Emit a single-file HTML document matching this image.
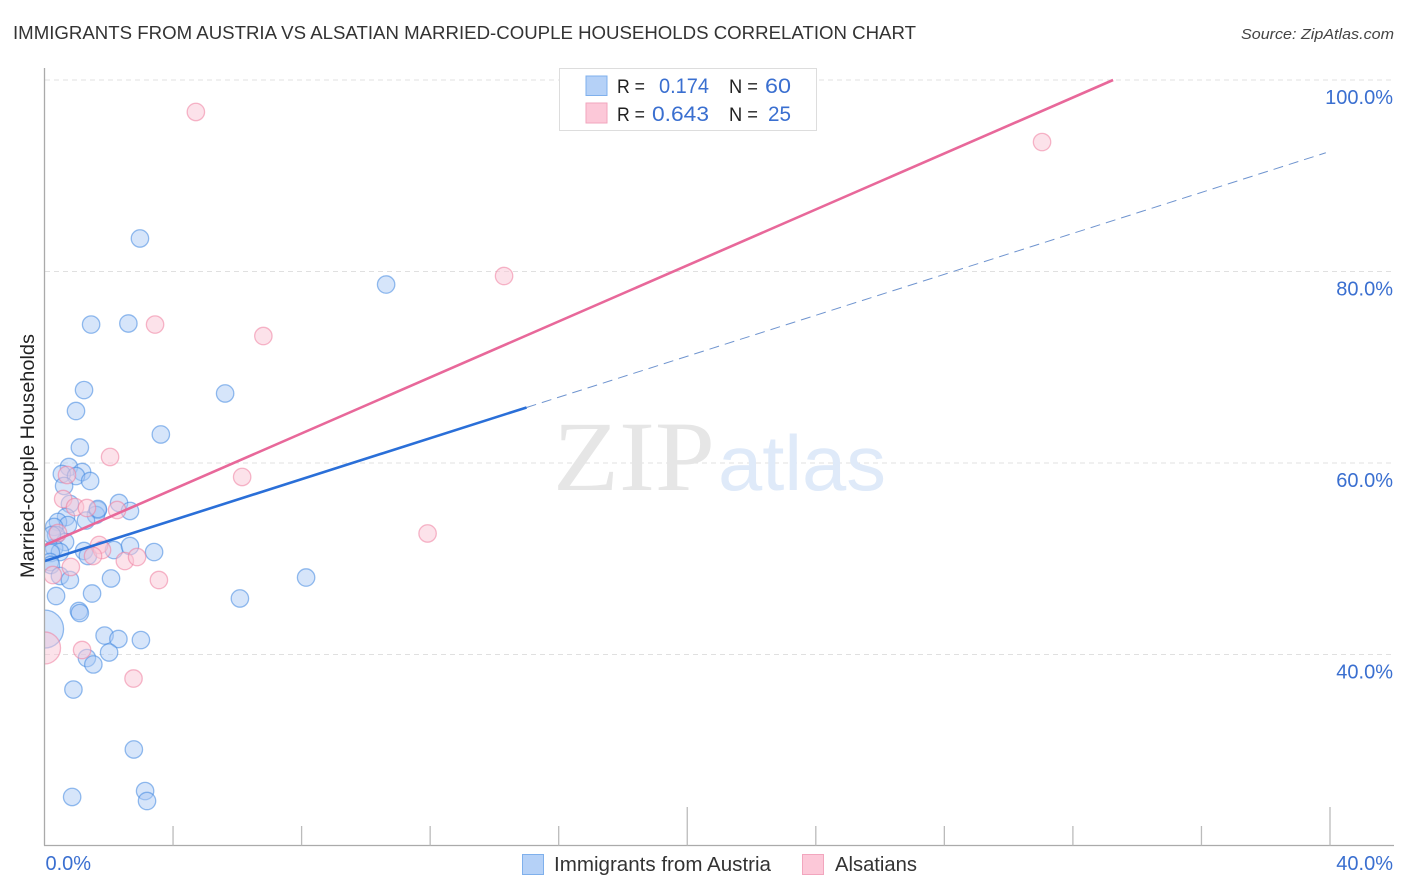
<!DOCTYPE html>
<html lang="en">
<head>
<meta charset="utf-8">
<title>Immigrants from Austria vs Alsatian Married-couple Households Correlation Chart</title>
<style>
  html, body { margin: 0; padding: 0; background: #fff; }
  body { width: 1406px; height: 892px; overflow: hidden; }
  svg { display: block; font-family: "Liberation Sans", sans-serif; }
</style>
</head>
<body>
<svg id="chart" width="1406" height="892" viewBox="0 0 1406 892" xmlns="http://www.w3.org/2000/svg">
  <rect width="1406" height="892" fill="#fff"/>
  <text x="13" y="39" font-size="18.5" fill="#333" textLength="903" lengthAdjust="spacingAndGlyphs">IMMIGRANTS FROM AUSTRIA VS ALSATIAN MARRIED-COUPLE HOUSEHOLDS CORRELATION CHART</text>
  <text x="1241" y="39" font-size="15" font-style="italic" fill="#444" textLength="153" lengthAdjust="spacingAndGlyphs">Source: ZipAtlas.com</text>

  <g id="grid"></g>

  <g>
    <text x="553" y="490" font-family="'Liberation Serif', serif" font-size="100" fill="#e6e6e6" textLength="162" lengthAdjust="spacingAndGlyphs">ZIP</text>
    <text x="718" y="490" font-size="78" fill="#dfeaf9" textLength="168" lengthAdjust="spacingAndGlyphs">atlas</text>
  </g>

  <g id="points"></g>
  <rect x="0" y="60" width="44.5" height="785" fill="#fff"/>
  <g id="trends"></g>
  <g id="axes"></g>

  <text transform="translate(34 456) rotate(-90)" font-size="19.5" fill="#222" text-anchor="middle" textLength="244" lengthAdjust="spacingAndGlyphs">Married-couple Households</text>

  <g>
    <rect x="559.5" y="68.5" width="257" height="62" fill="#fff" stroke="#ddd" stroke-width="1"/>
    <rect x="586" y="76" width="21" height="19.5" fill="#b5d1f7" stroke="#7fb0ec"/>
    <rect x="586" y="103" width="21" height="20" fill="#fcc8d8" stroke="#f2a6be"/>
    <g font-size="19" fill="#222">
      <text x="617" y="93" textLength="28" lengthAdjust="spacingAndGlyphs">R =</text>
      <text x="729" y="93" textLength="29" lengthAdjust="spacingAndGlyphs">N =</text>
      <text x="617" y="121" textLength="28" lengthAdjust="spacingAndGlyphs">R =</text>
      <text x="729" y="121" textLength="29" lengthAdjust="spacingAndGlyphs">N =</text>
    </g>
    <g font-size="21" fill="#3a6fd0">
      <text x="659" y="93" textLength="50" lengthAdjust="spacingAndGlyphs">0.174</text>
      <text x="765" y="93" textLength="26" lengthAdjust="spacingAndGlyphs">60</text>
      <text x="652" y="121" textLength="57" lengthAdjust="spacingAndGlyphs">0.643</text>
      <text x="768" y="121" textLength="23" lengthAdjust="spacingAndGlyphs">25</text>
    </g>
  </g>

  <g>
    <g>
      <rect x="522.5" y="854.5" width="21" height="20" fill="#b5d1f7" stroke="#7fb0ec"/>
      <text x="554" y="871" font-size="20" fill="#333" textLength="217" lengthAdjust="spacingAndGlyphs">Immigrants from Austria</text>
    </g>
    <g>
      <rect x="802.5" y="854.5" width="21" height="20" fill="#fcc8d8" stroke="#f2a6be"/>
      <text x="835" y="871" font-size="20" fill="#333" textLength="82" lengthAdjust="spacingAndGlyphs">Alsatians</text>
    </g>
  </g>
</svg>

<script>
var blueX = [2.97,10.63,2.61,1.45,1.23,5.62,0.98,3.62,1.10,0.76,1.17,0.54,0.98,1.42,0.61,0.79,2.32,1.66,1.60,2.66,0.67,1.29,0.42,0.73,0.30,0.36,0.64,0.30,1.23,2.16,2.66,3.41,0.48,0.20,1.35,0.17,0.20,0.48,0.79,2.07,8.14,1.48,0.36,6.08,1.07,1.10,1.87,2.30,3.00,2.01,1.32,1.52,0.90,2.78,0.86,3.13,3.19,1.66,0.23,0];
var blueY = [83.45,78.64,74.57,74.46,67.62,67.26,65.43,62.98,61.62,59.58,59.06,58.85,58.64,58.12,57.60,55.72,55.82,55.09,54.57,54.99,54.36,53.99,53.84,53.52,53.32,52.48,51.75,51.12,50.81,50.91,51.33,50.70,50.70,50.60,50.29,49.66,49.35,48.20,47.78,47.94,48.04,46.37,46.11,45.85,44.54,44.33,41.98,41.62,41.51,40.21,39.63,38.96,36.34,30.08,25.12,25.74,24.70,55.20,52.48,42.66];
var blueWeight = [1,1,1,1,1,1,1,1,1,1,1,1,1,1,1,1,1,1,1,1,1,1,1,1,1,1,1,1,1,1,1,1,1,1,1,1,1,1,1,1,1,1,1,1,1,1,1,1,1,1,1,1,1,1,1,1,1,1,1,4.8];

var pinkX = [4.71,31.04,14.30,3.44,6.81,2.04,6.15,0.70,0.58,0.95,1.32,2.26,11.92,1.70,1.79,0.42,1.51,2.50,2.88,0.82,0.26,3.56,1.17,2.77,0];
var pinkY = [96.66,93.52,79.53,74.46,73.26,60.63,58.54,58.75,56.24,55.40,55.30,55.09,52.64,51.44,50.91,52.69,50.29,49.76,50.18,49.14,48.30,47.78,40.47,37.49,40.68];
var pinkWeight = [1,1,1,1,1,1,1,1,1,1,1,1,1,1,1,1,1,1,1,1,1,1,1,1,3.4];

var blueTrendX = [0, 15.0, 39.87];
var blueTrendY = [49.75, 65.8, 92.4];
var pinkTrendX = [0, 33.25];
var pinkTrendY = [51.4, 100];

var yTickValues = [100, 80, 60, 40];
var yTickLabels = ["100.0%", "80.0%", "60.0%", "40.0%"];
var xTickValues = [4, 8, 12, 16, 20, 24, 28, 32, 36, 40];
var xMajorTicks = [20, 40];
var xEndValues = [0, 40];
var xEndLabels = ["0.0%", "40.0%"];

var NS = "http://www.w3.org/2000/svg";
function sx(v) { return 44.5 + v * 1285.5 / 40; }
function sy(v) { return 80 + (100 - v) * 9.575; }
function make(tag, attrs, parent) {
  var el = document.createElementNS(NS, tag);
  for (var k in attrs) el.setAttribute(k, attrs[k]);
  parent.appendChild(el);
  return el;
}

var gridG = document.getElementById("grid");
var axesG = document.getElementById("axes");
var pointsG = document.getElementById("points");
var trendsG = document.getElementById("trends");

yTickValues.forEach(function (v, i) {
  var line = make("line", { x1: 45, x2: 1394, y1: sy(v), y2: sy(v), stroke: "#e0e0e0", "stroke-width": 1, "stroke-dasharray": "5 4" }, gridG);
  
  
  var label = make("text", { x: 1393, y: sy(v) + 24, "font-size": 20, fill: "#3a6fd0", "text-anchor": "end" }, axesG);
  label.textContent = yTickLabels[i];
  
  
});

var yAxis = make("line", { x1: 44.5, x2: 44.5, y1: 68, y2: 845.5, stroke: "#aaa", "stroke-width": 1.3 }, axesG);


var xAxis = make("line", { x1: 44, x2: 1394, y1: 845.5, y2: 845.5, stroke: "#aaa", "stroke-width": 1.3 }, axesG);



xTickValues.forEach(function (v) {
  var top = xMajorTicks.indexOf(v) >= 0 ? 807 : 826;
  var tick = make("line", { x1: sx(v), x2: sx(v), y1: top, y2: 845.5, stroke: "#bbb", "stroke-width": 1.3 }, axesG);
  
  
});

xEndValues.forEach(function (v, i) {
  var endLabel = make("text", { x: i === 0 ? sx(v) + 1 : 1393, y: 870, "font-size": 20, fill: "#3a6fd0", "text-anchor": i === 0 ? "start" : "end" }, axesG);
  endLabel.textContent = xEndLabels[i];
  
  
});

blueX.forEach(function (v, i) {
  var dot = make("circle", { cx: sx(v), cy: sy(blueY[i]), r: 8.7 * Math.sqrt(blueWeight[i]), fill: "#a9c9f5", "fill-opacity": 0.48, stroke: "#3f86e0", "stroke-opacity": 0.55, "stroke-width": 1.3 }, pointsG);
  
  
});
pinkX.forEach(function (v, i) {
  var dot = make("circle", { cx: sx(v), cy: sy(pinkY[i]), r: 8.7 * Math.sqrt(pinkWeight[i]), fill: "#f9c5d5", "fill-opacity": 0.5, stroke: "#ee7d9f", "stroke-opacity": 0.55, "stroke-width": 1.3 }, pointsG);
  
  
});

var pinkLine = make("line", { x1: sx(pinkTrendX[0]), y1: sy(pinkTrendY[0]), x2: sx(pinkTrendX[1]), y2: sy(pinkTrendY[1]), stroke: "#e8689a", "stroke-width": 2.6 }, trendsG);


var blueSolid = make("line", { x1: sx(blueTrendX[0]), y1: sy(blueTrendY[0]), x2: sx(blueTrendX[1]), y2: sy(blueTrendY[1]), stroke: "#2a6fd8", "stroke-width": 2.6 }, trendsG);


var blueDash = make("line", { x1: sx(blueTrendX[1]), y1: sy(blueTrendY[1]), x2: sx(blueTrendX[2]), y2: sy(blueTrendY[2]), stroke: "#6f94cf", "stroke-width": 1, "stroke-dasharray": "10 6" }, trendsG);


</script>
</body>
</html>
